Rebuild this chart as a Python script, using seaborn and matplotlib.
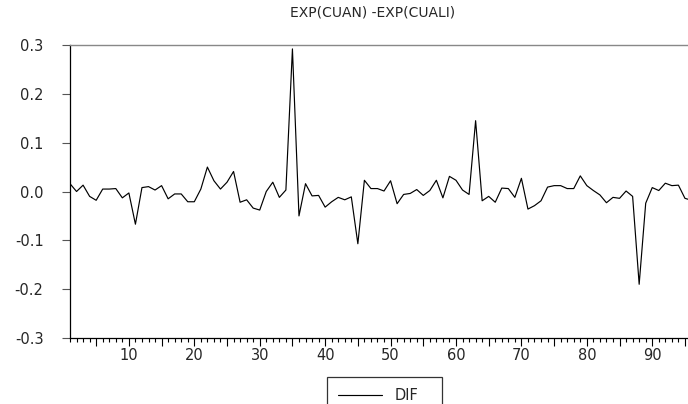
import matplotlib
matplotlib.use("Agg")
import matplotlib.pyplot as plt
from matplotlib.ticker import MultipleLocator, FuncFormatter
import seaborn as sns
import pandas as pd

# Serie DIF (observaciones 1..96)
obs = list(range(1, 97))
dif = [
    0.016, 0.000, 0.013, -0.010, -0.018, 0.005, 0.005, 0.006, -0.013, -0.003,
    -0.067, 0.008, 0.010, 0.003, 0.012, -0.015, -0.005, -0.005, -0.021, -0.021,
    0.005, 0.050, 0.022, 0.005, 0.019, 0.041, -0.022, -0.017, -0.034, -0.038,
    0.000, 0.019, -0.012, 0.003, 0.292, -0.050, 0.016, -0.009, -0.008, -0.032,
    -0.021, -0.012, -0.017, -0.011, -0.107, 0.023, 0.006, 0.006, 0.001, 0.022,
    -0.025, -0.006, -0.004, 0.004, -0.008, 0.002, 0.023, -0.013, 0.031, 0.023,
    0.003, -0.006, 0.145, -0.019, -0.010, -0.022, 0.007, 0.006, -0.012, 0.027,
    -0.036, -0.029, -0.019, 0.009, 0.012, 0.012, 0.006, 0.006, 0.032, 0.012,
    0.002, -0.007, -0.023, -0.012, -0.014, 0.001, -0.010, -0.190, -0.024, 0.008,
    0.002, 0.017, 0.012, 0.013, -0.014, -0.018,
]
y_ticks = [-0.3, -0.2, -0.1, 0.0, 0.1, 0.2, 0.3]
title = "EXP(CUAN) -EXP(CUALI)"

df = pd.DataFrame({"obs": obs, "DIF": dif})

sns.set_style("ticks")
plt.rcParams["font.family"] = ["DejaVu Sans"]
plt.rcParams["axes.unicode_minus"] = False

fig = plt.figure(figsize=(6.88, 4.04), dpi=100)
ax = fig.add_axes([70 / 688, 1 - 338 / 404, 621.5 / 688, 293 / 404])

sns.lineplot(data=df, x="obs", y="DIF", ax=ax, color="black", linewidth=0.85, label="DIF")

ax.set_xlim(1, 96)
ax.set_ylim(-0.3, 0.3)
ax.set_yticks(y_ticks)
ax.yaxis.set_major_formatter(FuncFormatter(lambda v, p: f"{v:.1f}"))
ax.xaxis.set_major_locator(MultipleLocator(5))
ax.xaxis.set_minor_locator(MultipleLocator(1))
ax.xaxis.set_major_formatter(FuncFormatter(lambda v, p: f"{int(v)}" if int(v) % 10 == 0 else ""))
ax.set_xlabel("")
ax.set_ylabel("")

ax.tick_params(axis="y", which="major", direction="out", length=6, width=0.8,
               color="#555555", pad=13, labelsize=10.5, left=True)
ax.tick_params(axis="y", which="minor", left=False)
ax.tick_params(axis="x", which="major", direction="out", length=5.5, width=0.8,
               color="black", pad=2, labelsize=10.5, bottom=True)
ax.tick_params(axis="x", which="minor", direction="out", length=3, width=0.8,
               color="black", bottom=True)

for side in ["left", "bottom"]:
    ax.spines[side].set_color("black")
    ax.spines[side].set_linewidth(0.9)
ax.spines["top"].set_visible(True)
ax.spines["top"].set_color("#888888")
ax.spines["top"].set_linewidth(1.0)
ax.spines["right"].set_visible(False)

fig.text(373 / 688, 1 - 12 / 404, title, ha="center", va="center", fontsize=10)

# Leyenda en caja rectangular bajo el grafico, ensanchada a la derecha
ax.get_legend().remove()
leg = fig.legend(loc="upper left", bbox_to_anchor=(327 / 688, 0, 115 / 688, 1 - 377 / 404),
                 mode="expand", frameon=True, fancybox=False, edgecolor="black",
                 fontsize=10.5, handlelength=3.0, borderpad=0.75, handletextpad=0.9,
                 borderaxespad=0)
leg.get_frame().set_linewidth(0.9)

fig.savefig("out.png", dpi=100)
